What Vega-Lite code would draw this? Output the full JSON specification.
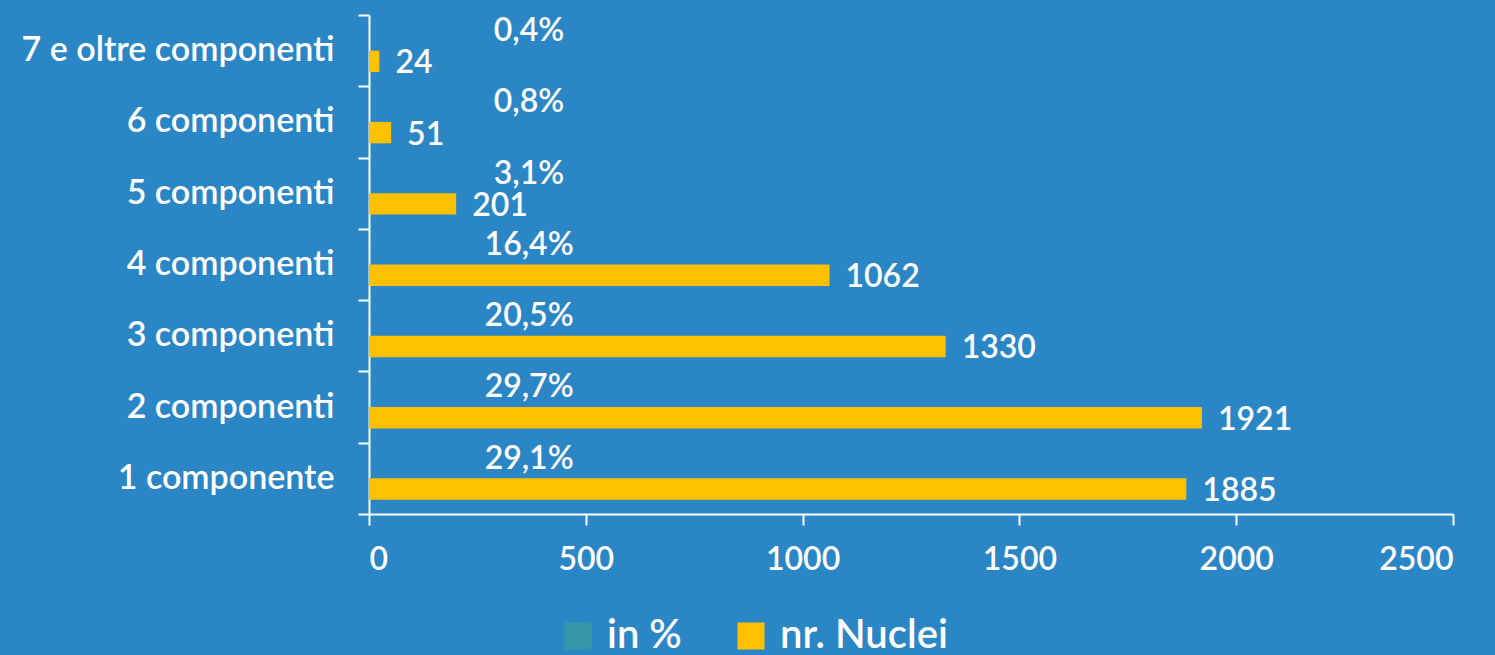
{
  "$schema": "https://vega.github.io/schema/vega-lite/v6.json",
  "autosize": {"type": "none"},
  "width": 1084,
  "height": 499,
  "padding": {"left": 369, "top": 15, "right": 42, "bottom": 141},
  "background": "#2B86C6",
  "config": {
    "font": "Lato",
    "view": {"stroke": null},
    "locale": {"number": {"decimal": ",", "thousands": ".", "grouping": [3], "currency": ["€", ""]}},
    "axis": {"grid": false, "domainColor": "white", "domainWidth": 2, "tickColor": "white", "tickWidth": 2, "tickSize": 11, "labelColor": "white", "labelFontSize": 32, "labelFont": "Lato", "labelFontWeight": 600, "labelLimit": 0, "title": null}
  },
  "data": {
    "values": [
      {"categoria": "7 e oltre componenti", "serie": "in %", "valore": 0.004},
      {"categoria": "7 e oltre componenti", "serie": "nr. Nuclei", "valore": 24},
      {"categoria": "6 componenti", "serie": "in %", "valore": 0.008},
      {"categoria": "6 componenti", "serie": "nr. Nuclei", "valore": 51},
      {"categoria": "5 componenti", "serie": "in %", "valore": 0.031},
      {"categoria": "5 componenti", "serie": "nr. Nuclei", "valore": 201},
      {"categoria": "4 componenti", "serie": "in %", "valore": 0.164},
      {"categoria": "4 componenti", "serie": "nr. Nuclei", "valore": 1062},
      {"categoria": "3 componenti", "serie": "in %", "valore": 0.205},
      {"categoria": "3 componenti", "serie": "nr. Nuclei", "valore": 1330},
      {"categoria": "2 componenti", "serie": "in %", "valore": 0.297},
      {"categoria": "2 componenti", "serie": "nr. Nuclei", "valore": 1921},
      {"categoria": "1 componente", "serie": "in %", "valore": 0.291},
      {"categoria": "1 componente", "serie": "nr. Nuclei", "valore": 1885}
    ]
  },
  "encoding": {
    "y": {
      "field": "categoria", "type": "nominal",
      "scale": {"domain": ["7 e oltre componenti", "6 componenti", "5 componenti", "4 componenti", "3 componenti", "2 componenti", "1 componente"], "paddingInner": 0, "paddingOuter": 0},
      "axis": {"tickBand": "extent", "labelPadding": 24, "labelFontSize": 34}
    },
    "yOffset": {
      "field": "serie", "type": "nominal",
      "scale": {"domain": ["in %", "nr. Nuclei"], "paddingInner": 0, "paddingOuter": 0.667}
    },
    "x": {
      "field": "valore", "type": "quantitative",
      "scale": {"domain": [0, 2500], "nice": false},
      "axis": {"values": [0, 500, 1000, 1500, 2000, 2500], "format": "d", "labelPadding": 19}
    }
  },
  "layer": [
    {
      "mark": {"type": "bar"},
      "encoding": {
        "color": {
          "field": "serie", "type": "nominal",
          "scale": {"domain": ["in %", "nr. Nuclei"], "range": ["#3696A8", "#FFC000"]},
          "legend": {"orient": "none", "direction": "horizontal", "legendX": 189, "legendY": 601, "title": null, "symbolType": "square", "symbolSize": 729, "symbolStrokeWidth": 0, "symbolOpacity": 1, "labelColor": "white", "labelFontSize": 40, "labelFont": "Lato", "labelFontWeight": 600, "labelLimit": 0, "labelOffset": 9, "columnPadding": 49, "padding": 0}
        }
      }
    },
    {
      "transform": [{"filter": "datum.serie === 'in %'"}],
      "mark": {"type": "text", "color": "white", "fontSize": 32, "fontWeight": 600, "align": "center", "baseline": "middle", "dx": 160, "dy": -9},
      "encoding": {"text": {"field": "valore", "type": "quantitative", "format": ".1%"}}
    },
    {
      "transform": [{"filter": "datum.serie === 'nr. Nuclei'"}],
      "mark": {"type": "text", "color": "white", "fontSize": 32, "fontWeight": 600, "align": "left", "baseline": "middle", "dx": 16, "dy": 2},
      "encoding": {"text": {"field": "valore", "type": "quantitative", "format": "d"}}
    }
  ]
}
